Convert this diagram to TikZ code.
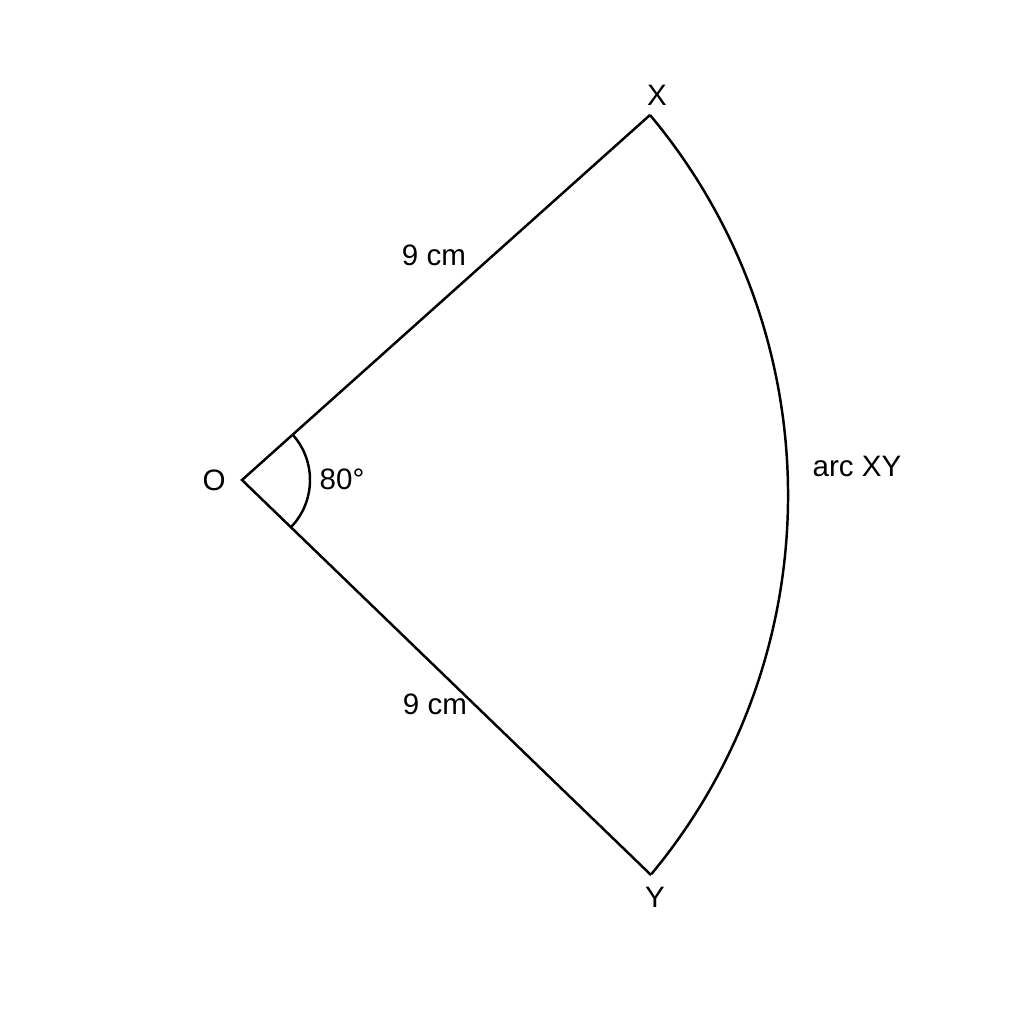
\documentclass[tikz,border=0pt]{standalone}
\usepackage{fontspec}
\setmainfont{Liberation Sans}
\usetikzlibrary{calc}
\begin{document}
\begin{tikzpicture}[x=0.01cm,y=-0.01cm,
  edge/.style={line width=0.7pt,line join=miter},
  lbl/.style={inner sep=0pt,font=\fontsize{8.4}{10}\selectfont}]
\useasboundingbox (0,0) rectangle (1024,1024);
\coordinate (O) at (242,480);
\coordinate (X) at (650,115);
\coordinate (Y) at (651,875);
% sector
\draw[edge] (X) -- (O) -- (Y);
\draw[edge] (X) arc[start angle=-39.9,end angle=39.7,radius=593];
% angle mark
\draw[edge] ($(O)+(-41.5:68)$) arc[start angle=-41.5,end angle=43.8,radius=68];
% labels
\node[lbl] (lO) at (214,480) {O};
\node[lbl] (lX) at (657,95) {X};
\node[lbl] (lY) at (655,897) {Y};
\node[lbl] (l1) at (434,255) {9 cm};
\node[lbl] (l2) at (435,704) {9 cm};
\node[lbl] (la) at (342,479) {80°};
\node[lbl] (lxy) at (857,466) {arc XY};
\end{tikzpicture}
\end{document}
